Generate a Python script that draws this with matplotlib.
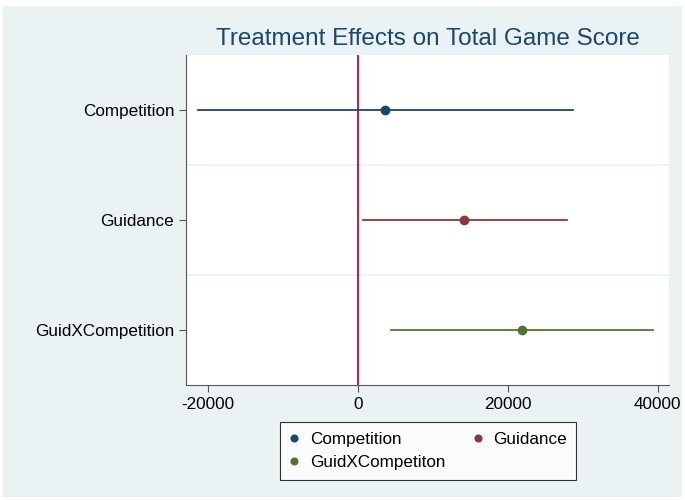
import matplotlib.pyplot as plt
from matplotlib.patches import Rectangle

plt.rcParams['font.family'] = ['Liberation Sans', 'DejaVu Sans']

# Dados (estimativa e intervalo de confiança)
labels = ["Competition", "Guidance", "GuidXCompetition"]
legend_names = ["Competition", "Guidance", "GuidXCompetiton"]
coef = [3640, 14170, 21870]
ci_low = [-21250, 670, 4440]
ci_high = [28670, 27870, 39330]
colors = ["#1a476f", "#90353b", "#55752f"]
xticks = [-20000, 0, 20000, 40000]

W, H = 685, 500
fig = plt.figure(figsize=(W / 100, H / 100), dpi=100)
fig.patch.set_facecolor("white")
fig.add_artist(Rectangle((3 / W, 3 / H), 679 / W, 491 / H, transform=fig.transFigure,
                         facecolor="#eaf2f3", edgecolor="none", zorder=-10))

ax = fig.add_axes([186 / W, 1 - 385 / H, (669 - 186) / W, (385 - 55) / H])
ax.set_facecolor("white")

ypos = [1, 2, 3]
handles = []
for y, c, lo, hi, col, name in zip(ypos, coef, ci_low, ci_high, colors, legend_names):
    ax.plot([lo, hi], [y, y], color=col, lw=1.3, zorder=3)
    h, = ax.plot(c, y, "o", color=col, ms=6, zorder=4, label=name)
    handles.append(h)

ax.axvline(0, color="#c10534", lw=1.3, zorder=2)
for g in [1.5, 2.5]:
    ax.axhline(g, color="#eaf2f3", lw=1.2, zorder=1)

ax.set_xlim(-22890, 41510)
ax.set_ylim(3.5, 0.5)
ax.set_yticks(ypos)
ax.set_yticklabels(labels, fontsize=12.3)
ax.set_xticks(xticks)
ax.set_xticklabels([str(t) for t in xticks], fontsize=12.3)
ax.tick_params(direction="out", length=5, color="#555555", width=0.8)
for s in ["top", "right"]:
    ax.spines[s].set_visible(False)
for s in ["left", "bottom"]:
    ax.spines[s].set_color("#555555")
    ax.spines[s].set_linewidth(0.8)

fig.text((186 + 669) / 2 / W, 1 - 39 / H, "Treatment Effects on Total Game Score",
         ha="center", va="center", fontsize=17.5, color="#1a476f")

# legenda preenchida por linha, como no original
leg_order = [handles[0], handles[2], handles[1]]
leg = fig.legend(handles=leg_order, ncol=2, loc="center", bbox_to_anchor=(428 / W, 1 - 451 / H),
                 fontsize=12.3, frameon=True, fancybox=False, edgecolor="black",
                 handlelength=0.6, handletextpad=0.6, columnspacing=1.6, borderpad=0.55,
                 labelspacing=0.5, markerscale=0.8, borderaxespad=0)
leg.get_frame().set_linewidth(0.8)

fig.savefig("out.png", dpi=100)
